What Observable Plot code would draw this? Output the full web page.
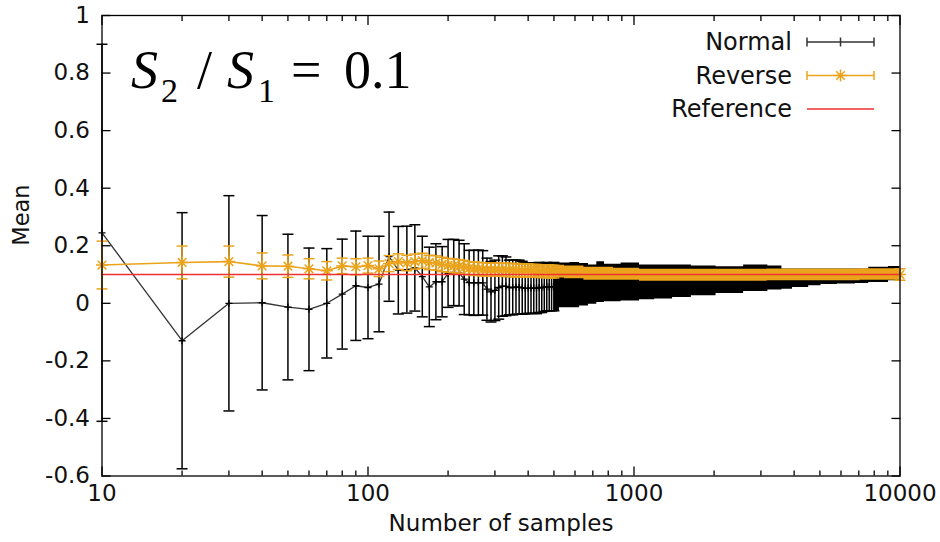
<!DOCTYPE html>
<html><head><meta charset="utf-8">
<script src="https://cdn.jsdelivr.net/npm/d3@7"></script>
<script src="https://cdn.jsdelivr.net/npm/@observablehq/plot@0.6"></script>
<style>
body{margin:0;background:#fff;}
#chart{position:relative;width:940px;height:542px;overflow:hidden;}
</style></head><body><div id="chart"></div>
<script>
// ---- data ----
const sampleX = [10,20,30,40,50,60,70,80,90,100,110,120,130,140,150,160,170,180,190,200,210,220,230,240,250,260,270,280,290,300,
  310,320,330,340,350,360,370,380,390,400,410,420,430,440,450,460,470,480,490,500];
const normalMean = [0.245,-0.13,0.0,0.002,-0.013,-0.021,0.0,0.032,0.061,0.055,0.067,0.162,0.115,0.117,0.123,0.093,0.057,0.075,0.075,0.104,0.107,0.105,0.084,0.072,0.071,0.072,0.071,0.049,0.040,0.045,
  0.055,0.060,0.059,0.055,0.055,0.056,0.056,0.054,0.052,0.053,0.053,0.053,0.052,0.055,0.054,0.056,0.058,0.057,0.057,0.058];
const normalErr = [0.655,0.445,0.374,0.303,0.253,0.213,0.19,0.191,0.19,0.178,0.166,0.155,0.152,0.151,0.15,0.14,0.138,0.132,0.122,0.118,0.115,0.114,0.123,0.112,0.113,0.113,0.112,0.108,0.105,0.105,
  0.110,0.105,0.102,0.095,0.095,0.094,0.094,0.092,0.089,0.088,0.088,0.088,0.088,0.087,0.086,0.084,0.084,0.083,0.083,0.084];
const reverseMean = [0.133,0.142,0.145,0.130,0.129,0.120,0.113,0.130,0.127,0.131,0.120,0.138,0.145,0.140,0.145,0.148,0.142,0.140,0.135,0.132,0.130,0.128,0.125,0.122,0.120,0.120,0.118,0.117,0.117,0.117,
  0.117,0.117,0.116,0.116,0.115,0.115,0.115,0.114,0.114,0.114,0.113,0.113,0.113,0.112,0.112,0.112,0.111,0.111,0.110,0.110];
const reverseErr = [0.083,0.057,0.054,0.045,0.039,0.035,0.032,0.027,0.028,0.026,0.027,0.028,0.027,0.027,0.026,0.026,0.025,0.025,0.025,0.024,0.024,0.024,0.024,0.023,0.023,0.023,0.023,0.023,0.023,0.023,
  0.023,0.023,0.023,0.023,0.023,0.023,0.023,0.023,0.023,0.023,0.022,0.022,0.022,0.022,0.022,0.022,0.022,0.022,0.022,0.022];

// dense region (error bars merge into a solid band): envelope read at these sample counts
const normalBandX  = [500,550,600,650,700,750,800,1000,1100,1300,1500,1800,2300,2900,3500,3700,4200,4900,5200,6500,7100,8200,10000];
const normalBandLo = [-0.026,-0.015,-0.015,-0.009,-0.003,0.003,0.005,0.008,0.012,0.015,0.020,0.026,0.034,0.041,0.046,0.049,0.055,0.061,0.065,0.067,0.069,0.072,0.078];
const normalBandHi = [0.142,0.140,0.142,0.138,0.133,0.144,0.136,0.140,0.133,0.133,0.133,0.130,0.127,0.133,0.130,0.119,0.119,0.119,0.119,0.119,0.119,0.125,0.128];
const reverseBandX  = [500,600,700,1000,1100,2000,5000,10000];
const reverseBandLo = [0.088,0.085,0.080,0.080,0.077,0.077,0.078,0.080];
const reverseBandHi = [0.132,0.130,0.125,0.122,0.118,0.118,0.119,0.120];

const referenceValue = [0.1];
const xMajorTicks = [10,100,1000,10000];
const xMinorTicks = [20,30,40,50,60,70,80,90,200,300,400,500,600,700,800,900,2000,3000,4000,5000,6000,7000,8000,9000];
const yTicks = [-0.6,-0.4,-0.2,0,0.2,0.4,0.6,0.8,1];
const legendLabels = ["Normal","Reverse","Reference"];
const xLabel = "Number of samples";
const yLabel = "Mean";

// ---- styles ----
const BLACK = "#000";
const LINEGRAY = "#333";
const ORANGE = "#eba31c";
const RED = "#ee3030";
const SANS = "'DejaVu Sans', Verdana, sans-serif";
const SERIF = "'Liberation Serif', 'Times New Roman', Times, serif";

const normal = sampleX.map((x,i)=>({x, mean: normalMean[i], lo: normalMean[i]-normalErr[i], hi: normalMean[i]+normalErr[i]}));
const reverse = sampleX.map((x,i)=>({x, mean: reverseMean[i], lo: reverseMean[i]-reverseErr[i], hi: reverseMean[i]+reverseErr[i]}));
const normalBand = normalBandX.map((x,i)=>({x, lo: normalBandLo[i], hi: normalBandHi[i]}));
const reverseBand = reverseBandX.map((x,i)=>({x, lo: reverseBandLo[i], hi: reverseBandHi[i], mean:(reverseBandLo[i]+reverseBandHi[i])/2}));
const reverseEnd = reverseBand.slice(-1);

const rOf = s => Math.sqrt(s/Math.PI);
const capSym = {draw(c,s){const r=rOf(s); c.moveTo(-r,0); c.lineTo(r,0);}};
const plusSym = {draw(c,s){const r=rOf(s); c.moveTo(-r,0); c.lineTo(r,0); c.moveTo(0,-r); c.lineTo(0,r);}};
const starSym = {draw(c,s){const r=rOf(s), d=r*0.72; c.moveTo(-r,0); c.lineTo(r,0); c.moveTo(0,-r); c.lineTo(0,r); c.moveTo(-d,-d); c.lineTo(d,d); c.moveTo(-d,d); c.lineTo(d,-d);}};
const fmtY = d => String(+(+d).toFixed(1));
const blank = () => "";

const tickOpts = {tickFormat: blank, strokeWidth: 1.3, label: null};

const chart = Plot.plot({
  width: 940, height: 542,
  marginTop: 15, marginRight: 40.5, marginBottom: 66.5, marginLeft: 101.5,
  style: {fontFamily: SANS, fontSize: "23px", color: "#000", background: "#fff"},
  x: {type: "log", domain: [10, 10000], axis: null},
  y: {domain: [-0.6, 1], axis: null},
  marks: [
    // Normal
    Plot.ruleX(normal, {x:"x", y1:"lo", y2:"hi", stroke:BLACK, strokeWidth:1.5}),
    Plot.dot(normal, {x:"x", y:"lo", symbol:capSym, r:5.5, stroke:BLACK, strokeWidth:1.5}),
    Plot.dot(normal, {x:"x", y:"hi", symbol:capSym, r:5.5, stroke:BLACK, strokeWidth:1.5}),
    Plot.areaY(normalBand, {x:"x", y1:"lo", y2:"hi", curve:"step", fill:BLACK}),
    Plot.line(normal, {x:"x", y:"mean", stroke:LINEGRAY, strokeWidth:1.3}),
    Plot.dot(normal, {x:"x", y:"mean", symbol:plusSym, r:3.5, stroke:BLACK, strokeWidth:1.3}),
    // Reverse
    Plot.areaY(reverseBand, {x:"x", y1:"lo", y2:"hi", curve:"step", fill:ORANGE}),
    Plot.ruleX(reverse, {x:"x", y1:"lo", y2:"hi", stroke:ORANGE, strokeWidth:1.5}),
    Plot.dot(reverse, {x:"x", y:"lo", symbol:capSym, r:5.5, stroke:ORANGE, strokeWidth:1.5}),
    Plot.dot(reverse, {x:"x", y:"hi", symbol:capSym, r:5.5, stroke:ORANGE, strokeWidth:1.5}),
    Plot.line(reverse, {x:"x", y:"mean", stroke:ORANGE, strokeWidth:1.6}),
    Plot.dot(reverse, {x:"x", y:"mean", symbol:starSym, r:6, stroke:ORANGE, strokeWidth:1.5}),
    Plot.ruleX(reverseEnd, {x:"x", y1:"lo", y2:"hi", stroke:ORANGE, strokeWidth:1.5}),
    Plot.dot(reverseEnd, {x:"x", y:"lo", symbol:capSym, r:5.5, stroke:ORANGE, strokeWidth:1.5}),
    Plot.dot(reverseEnd, {x:"x", y:"hi", symbol:capSym, r:5.5, stroke:ORANGE, strokeWidth:1.5}),
    Plot.dot(reverseEnd, {x:"x", y:"mean", symbol:starSym, r:6, stroke:ORANGE, strokeWidth:1.5}),
    // Reference
    Plot.ruleY(referenceValue, {stroke:RED, strokeWidth:1.5}),
    // frame + ticks (inward, mirrored)
    Plot.frame({stroke:BLACK, strokeWidth:1.3}),
    Plot.axisX(xMajorTicks, {anchor:"bottom", tickSize:-9, ...tickOpts}),
    Plot.axisX(xMinorTicks, {anchor:"bottom", tickSize:-5, ...tickOpts}),
    Plot.axisX(xMajorTicks, {anchor:"top", tickSize:-9, ...tickOpts}),
    Plot.axisX(xMinorTicks, {anchor:"top", tickSize:-5, ...tickOpts}),
    Plot.axisY(yTicks, {anchor:"left", tickSize:-9, ...tickOpts}),
    Plot.axisY(yTicks, {anchor:"right", tickSize:-9, ...tickOpts}),
    Plot.axisX(xMajorTicks, {anchor:"bottom", tickSize:0, tickPadding:9, tickFormat:d=>String(d), fontSize:23, fill:"#111", label:null}),
    Plot.axisY(yTicks, {anchor:"left", tickSize:0, tickPadding:12, tickFormat:fmtY, fontSize:23, fill:"#111", label:null}),
    Plot.text([xLabel], {frameAnchor:"bottom", dy:55, fontSize:23, fill:"#111"}),
    Plot.text([yLabel], {frameAnchor:"left", dx:-80, dy:0, rotate:-90, fontSize:22.5, fill:"#111"})
  ]
});
document.getElementById("chart").appendChild(chart);

// ---- legend (inside plot, top right) ----
const svg = d3.select(chart);
const lg = svg.append("g").style("font-family", SANS).style("font-size", "24px").attr("fill", "#111");
const legendColors = [LINEGRAY, ORANGE, RED];
legendLabels.forEach((label, i) => {
  const y = 42 + i * 33.5;
  const x0 = 807, x1 = 874, xm = (x0 + x1) / 2;
  lg.append("text").attr("x", 792).attr("y", y).attr("dy", "0.35em").attr("text-anchor", "end").text(label);
  const g = lg.append("g").attr("stroke", legendColors[i]).attr("stroke-width", 1.5).attr("fill", "none");
  g.append("line").attr("x1", x0).attr("x2", x1).attr("y1", y).attr("y2", y);
  if (i < 2) {
    g.append("line").attr("x1", x0).attr("x2", x0).attr("y1", y-4.5).attr("y2", y+4.5);
    g.append("line").attr("x1", x1).attr("x2", x1).attr("y1", y-4.5).attr("y2", y+4.5);
  }
  if (i === 0) g.append("line").attr("x1", xm).attr("x2", xm).attr("y1", y-4.5).attr("y2", y+4.5);
  if (i === 1) {
    const p = d3.path(); starSym.draw(p, 6*6*Math.PI);
    g.append("path").attr("transform", `translate(${xm},${y})`).attr("d", p.toString());
  }
});

// ---- title  S2 / S1 = 0.1 ----
const t = svg.append("text").style("font-family", SERIF).style("font-size", "54px")
  .attr("fill", "#000").attr("text-anchor", "start").attr("y", 88);
t.append("tspan").attr("x", 131).style("font-style", "italic").text("S");
t.append("tspan").attr("x", 161).attr("dy", 14).style("font-size", "34px").text("2");
t.append("tspan").attr("x", 197).attr("dy", -14).text("/");
t.append("tspan").attr("x", 227).style("font-style", "italic").text("S");
t.append("tspan").attr("x", 258).attr("dy", 14).style("font-size", "34px").text("1");
t.append("tspan").attr("x", 291).attr("dy", -14).text("=");
t.append("tspan").attr("x", 344).text("0.1");
</script>
</body></html>
